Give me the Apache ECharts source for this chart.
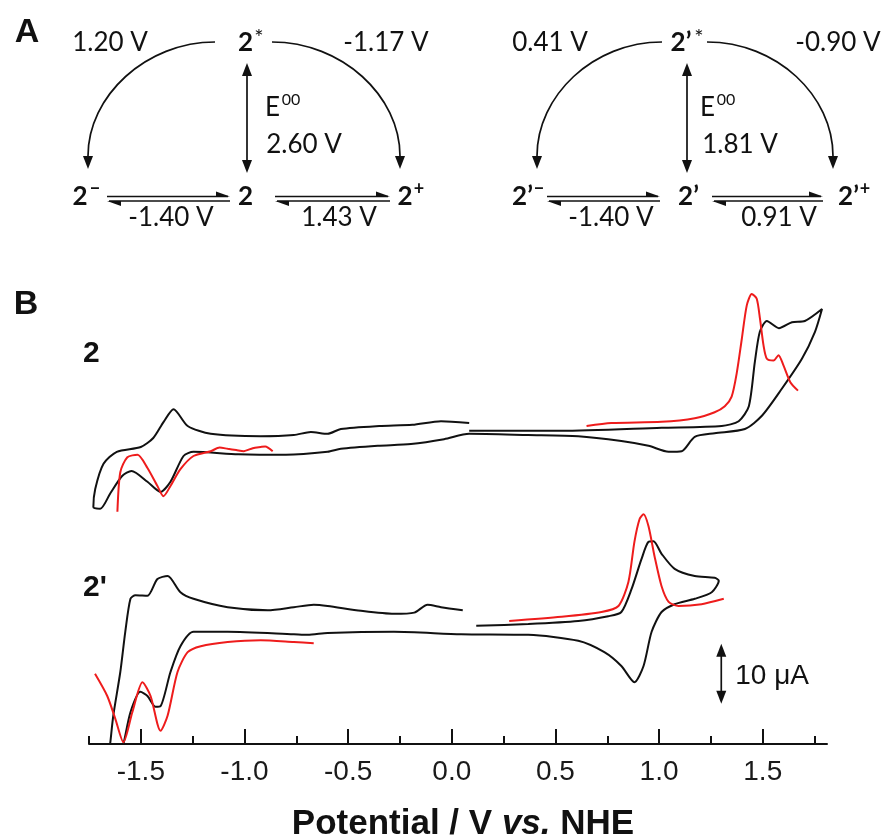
<!DOCTYPE html>
<html lang="en">
<head>
<meta charset="UTF-8">
<title>CV 2 / 2'</title>
<script src="https://cdn.jsdelivr.net/npm/echarts@6.0.0/dist/echarts.min.js"></script>
<style>
  html, body { margin: 0; padding: 0; background: #fff; }
  #main { width: 886px; height: 837px; }
</style>
</head>
<body>
<div id="main"></div>
<script>
// [potential / V vs NHE, current / uA (traces offset vertically)]
var cv2Black = [[0.084,52.2],[0.529,52.2],[1.012,52.7],[1.302,53.0],[1.384,53.8],[1.433,56.3],[1.462,63.7],[1.486,68.7],
  [1.520,70.5],[1.578,69.3],[1.641,70.3],[1.703,70.5],[1.786,72.5],[1.752,68.7],[1.689,64.2],[1.592,59.2],[1.496,54.7],
  [1.414,52.5],[1.268,51.8],[1.172,51.2],[1.109,48.8],[1.046,48.7],[0.949,49.7],[0.818,50.5],[0.610,51.3],[0.369,51.5],
  [0.084,51.7],[-0.037,50.8],[-0.197,50.0],[-0.357,49.7],[-0.535,49.2],[-0.599,48.7],[-0.800,48.2],[-1.030,48.3],
  [-1.246,48.7],[-1.294,48.0],[-1.357,43.7],[-1.405,42.0],[-1.468,43.7],[-1.545,45.5],[-1.589,44.7],[-1.647,41.8],
  [-1.696,39.2],[-1.729,39.5],[-1.720,42.5],[-1.680,46.7],[-1.616,48.7],[-1.500,49.5],[-1.440,51.0],[-1.390,53.7],
  [-1.342,55.8],[-1.274,53.0],[-1.163,51.7],[-0.922,51.3],[-0.762,51.5],[-0.680,52.0],[-0.599,51.7],[-0.535,52.5],
  [-0.350,53.0],[-0.190,53.2],[-0.052,53.8],[0.084,53.5]];
var cv2RedLeft = [[-1.613,38.7],[-1.599,45.3],[-1.565,47.8],[-1.516,48.2],[-1.468,46.0],[-1.420,43.0],[-1.391,41.3],
  [-1.357,43.0],[-1.309,45.8],[-1.246,48.0],[-1.163,48.8],[-1.120,49.4],[-1.081,49.2],[-1.040,49.0],[-1.004,48.8],
  [-0.960,49.3],[-0.922,49.5],[-0.900,49.6],[-0.864,48.8]];
var cv2RedRight = [[0.650,53.0],[0.770,53.5],[1.012,53.7],[1.172,54.3],[1.268,55.3],[1.317,56.3],[1.350,57.9],
  [1.375,61.9],[1.399,67.5],[1.423,73.1],[1.447,75.0],[1.471,74.2],[1.487,70.8],[1.504,66.4],[1.520,64.2],[1.552,63.9],
  [1.576,64.8],[1.600,63.1],[1.633,60.3],[1.670,58.9]];
var cv2pBlack = [[0.118,19.7],[0.369,20.0],[0.610,20.5],[0.755,21.3],[0.818,22.0],[0.867,25.8],[0.915,30.8],[0.949,33.7],
  [0.973,33.8],[1.012,31.7],[1.075,29.2],[1.172,28.0],[1.268,27.7],[1.288,27.2],[1.254,25.3],[1.172,24.2],[1.075,23.3],
  [1.012,22.0],[0.964,18.7],[0.925,13.0],[0.881,10.3],[0.818,13.0],[0.736,15.3],[0.610,17.2],[0.369,18.2],[0.045,18.3],
  [-0.279,18.7],[-0.599,18.5],[-0.695,18.2],[-0.762,18.3],[-1.081,18.7],[-1.246,18.7],[-1.309,16.3],[-1.357,12.0],
  [-1.405,6.3],[-1.429,6.2],[-1.468,8.0],[-1.502,8.7],[-1.550,5.3],[-1.584,0.0],[-1.620,-4.0],[-1.660,-5.0],
  [-1.655,-2.0],[-1.647,0.3],[-1.633,4.7],[-1.599,12.0],[-1.575,18.7],[-1.550,24.2],[-1.526,24.8],[-1.468,24.7],
  [-1.420,27.5],[-1.371,28.0],[-1.309,25.3],[-1.246,24.2],[-1.081,22.8],[-0.888,22.3],[-0.762,22.8],[-0.666,23.2],
  [-0.599,23.0],[-0.438,22.2],[-0.279,21.7],[-0.181,21.9],[-0.117,23.2],[-0.052,22.8],[0.053,22.3]];
var cv2pRedLeft = [[-1.721,11.7],[-1.662,8.0],[-1.623,4.2],[-1.584,0.3],[-1.541,5.3],[-1.492,10.3],[-1.453,8.0],
  [-1.405,2.2],[-1.371,4.7],[-1.323,12.0],[-1.274,15.3],[-1.211,16.3],[-1.081,17.0],[-0.922,17.3],[-0.762,17.0],
  [-0.666,16.8]];
var cv2pRedRight = [[0.277,20.5],[0.529,21.2],[0.722,22.0],[0.804,23.0],[0.852,27.0],[0.881,33.7],[0.906,37.5],
  [0.925,38.3],[0.949,36.3],[0.978,31.3],[1.012,26.3],[1.046,23.7],[1.094,23.0],[1.205,23.3],[1.312,24.2]];

var majorTicks = [-1.5, -1.0, -0.5, 0, 0.5, 1.0, 1.5];
var minorTicks = [-1.75, -1.25, -0.75, -0.25, 0.25, 0.75, 1.25, 1.75];
var scaleBar = { x: 1.30, top: 16.7, span: 10, label: '10 μA' };

var ink = '#111';
var red = '#ee1c1c';

var chart = echarts.init(document.getElementById('main'));

function trace(data, color) {
  return {
    type: 'line', data: data, showSymbol: false, smooth: 0.25,
    lineStyle: { color: color, width: 2 }, silent: true
  };
}

chart.setOption({
  animation: false,
  grid: { left: 89, right: 59, top: 282, bottom: 93, outerBoundsMode: 'none' },
  xAxis: [{
    type: 'value', min: -1.75, max: 1.81, position: 'bottom',
    axisLine: { lineStyle: { color: ink, width: 2 } },
    axisTick: { inside: true, length: 15, customValues: majorTicks, lineStyle: { color: ink, width: 2 } },
    axisLabel: {
      customValues: majorTicks, margin: 14, fontSize: 28, color: '#1a1a1a',
      fontFamily: 'Liberation Sans',
      formatter: function (v) { return v.toFixed(1); }
    },
    splitLine: { show: false },
    name: '{a|Potential / V }{b|vs.}{a| NHE}',
    nameLocation: 'middle', nameGap: 63,
    nameTextStyle: {
      padding: [0, 0, 0, 10],
      rich: {
        a: { fontSize: 35, fontWeight: 'bold', fontFamily: 'Liberation Sans', color: ink },
        b: { fontSize: 35, fontWeight: 'bold', fontStyle: 'italic', fontFamily: 'Liberation Sans', color: ink }
      }
    }
  }, {
    type: 'value', min: -1.75, max: 1.81, position: 'bottom',
    axisLine: { show: false },
    axisTick: { inside: true, length: 8, customValues: minorTicks, lineStyle: { color: ink, width: 2 } },
    axisLabel: { show: false },
    splitLine: { show: false }
  }],
  yAxis: { type: 'value', min: 0, max: 77, show: false },
  series: [
    trace(cv2Black, ink), trace(cv2RedLeft, red), trace(cv2RedRight, red),
    trace(cv2pBlack, ink), trace(cv2pRedLeft, red), trace(cv2pRedRight, red)
  ]
});

// ---- annotations (scheme A, labels, scale bar) ----
function txt(x, y, s, font, align) {
  return { type: 'text', x: x, y: y, style: {
    text: s, font: font, fill: ink, align: align || 'center', verticalAlign: 'middle',
    textAlign: align || 'center', textVerticalAlign: 'middle' } };
}
function curve(x1, y1, x2, y2, c1x, c1y, c2x, c2y) {
  return { type: 'bezierCurve', shape: { x1: x1, y1: y1, x2: x2, y2: y2, cpx1: c1x, cpy1: c1y, cpx2: c2x, cpy2: c2y },
    style: { stroke: ink, lineWidth: 1.7, fill: null } };
}
function seg(x1, y1, x2, y2) {
  return { type: 'line', shape: { x1: x1, y1: y1, x2: x2, y2: y2 }, style: { stroke: ink, lineWidth: 1.7 } };
}
function tri(pts) {
  return { type: 'polygon', shape: { points: pts }, style: { fill: ink } };
}
function downHead(x, y) { return tri([[x, y], [x - 5, y - 13], [x + 5, y - 13]]); }
function upHead(x, y) { return tri([[x, y], [x - 5, y + 13], [x + 5, y + 13]]); }
function harpoons(x1, x2) {
  var yt = 196.5, yb = 201;
  return [
    seg(x1, yt, x2 - 2, yt), tri([[x2, yt], [x2 - 14, yt - 5], [x2 - 14, yt]]),
    seg(x1 + 2, yb, x2, yb), tri([[x1, yb], [x1 + 14, yb + 5], [x1 + 14, yb]])
  ];
}

var N = '26px Lato', B = 'bold 26px Lato', S = '22px Lato', SB = 'bold 18px Lato';
var g = [];
// left scheme (2)
g.push(curve(215, 42, 88, 156, 146, 42, 88, 96), downHead(88, 169));
g.push(curve(272, 42, 400, 156, 342, 42, 400, 96), downHead(400, 169));
g.push(seg(247, 72, 247, 164), upHead(247, 63), downHead(247, 173));
g = g.concat(harpoons(107, 230), harpoons(275, 390));
g.push(txt(110, 43, '1.20 V', N), txt(245.5, 43, '2', B), txt(259, 38, '*', S), txt(386, 43, '-1.17 V', N));
g.push(txt(272.5, 108, 'E', N), txt(291, 100, '00', '16px Lato'), txt(304, 145, '2.60 V', N));
g.push(txt(80, 197, '2', B), txt(95, 189, '−', SB), txt(245.5, 197, '2', B), txt(405, 197, '2', B), txt(419, 189, '+', SB));
g.push(txt(171, 218, '-1.40 V', N), txt(339, 218, '1.43 V', N));
// right scheme (2')
g.push(curve(662, 42, 537, 156, 593, 42, 537, 96), downHead(537, 169));
g.push(curve(707, 42, 833, 156, 777, 42, 833, 96), downHead(833, 169));
g.push(seg(687, 72, 687, 164), upHead(687, 63), downHead(687, 173));
g = g.concat(harpoons(547, 660), harpoons(712, 823));
g.push(txt(550, 43, '0.41 V', N), txt(681, 43, '2’', B), txt(699, 38, '*', S), txt(838, 43, '-0.90 V', N));
g.push(txt(707.5, 108, 'E', N), txt(726, 100, '00', '16px Lato'), txt(740, 145, '1.81 V', N));
g.push(txt(522.5, 197, '2’', B), txt(539, 189, '−', SB), txt(688.5, 197, '2’', B),
  txt(848.5, 197, '2’', B), txt(865, 189, '+', SB));
g.push(txt(611, 218, '-1.40 V', N), txt(779, 218, '0.91 V', N));
// panel letters and trace labels
g.push(txt(27, 33, 'A', 'bold 34px Liberation Sans'), txt(26, 305, 'B', 'bold 34px Liberation Sans'));
g.push(txt(83, 354, '2', 'bold 30px Liberation Sans', 'left'), txt(83, 588, "2'", 'bold 30px Liberation Sans', 'left'));
// 10 uA scale bar, placed through the chart's own scale
var pTop = chart.convertToPixel({ gridIndex: 0 }, [scaleBar.x, scaleBar.top]);
var pBot = chart.convertToPixel({ gridIndex: 0 }, [scaleBar.x, scaleBar.top - scaleBar.span]);
g.push(seg(pTop[0], pTop[1] + 6, pBot[0], pBot[1] - 6), upHead(pTop[0], pTop[1]), downHead(pBot[0], pBot[1]));
g.push(txt(pTop[0] + 14, (pTop[1] + pBot[1]) / 2 + 2, scaleBar.label, '28px Liberation Sans', 'left'));

chart.setOption({ graphic: g });
</script>
</body>
</html>
